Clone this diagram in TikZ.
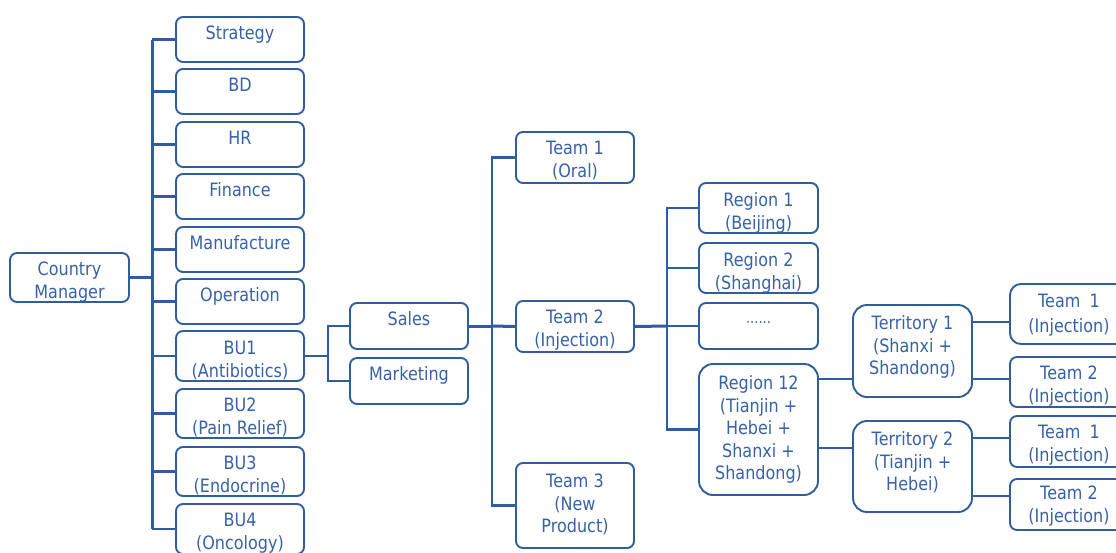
\documentclass[tikz,border=0pt]{standalone}
\usepackage{fontspec}
\setmainfont{DejaVu Sans}[FakeStretch=0.87]
\usetikzlibrary{calc}
\definecolor{lc}{HTML}{2F5D9E}
\definecolor{tc}{HTML}{3862A8}
\tikzset{
  box/.style={draw=lc, line width=1.9pt, rounded corners=7pt, text=tc,
    inner sep=0pt, text height=0pt, text depth=0pt,
    font=\fontsize{18.4}{22.5}\selectfont},
  bigbox/.style={box, rounded corners=14pt},
  conn/.style={draw=lc, line width=2.1pt},
  thick conn/.style={draw=lc, line width=3pt},
}
% #1 = vertical offset (px, down positive) of the first line's middle from the box centre
\newcommand{\ml}[2]{\raisebox{\dimexpr -#1pt - 6.6pt\relax}{\parbox[t]{112pt}{\centering #2}}}
\begin{document}
\begin{tikzpicture}[x=1pt,y=-1pt]
\clip (0,0) rectangle (1116,552);
\useasboundingbox (0,0) rectangle (1116,552);
\fill[white] (0,0) rectangle (1116,552);

% Country manager
\node[box, minimum width=119pt, minimum height=49pt] (cm) at (69.5,277.5) {\ml{-8.5}{Country\\Manager}};

% Left column
\foreach \n/\y/\h/\o/\t in {
  s1/39.5/45/-6.5/{Strategy},
  s2/91.5/45/-6.5/{BD},
  s3/144.5/45/-6.5/{HR},
  s4/196.5/45/-6.5/{Finance},
  s5/249.5/45/-7/{Manufacture},
  s6/301.5/45/-6.5/{Operation},
  bu1/356/50/-8/{BU1\\(Antibiotics)},
  bu2/413.5/49/-8.5/{BU2\\(Pain Relief)},
  bu3/471.5/49/-8.5/{BU3\\(Endocrine)},
  bu4/529/50/-9/{BU4\\(Oncology)}}
  \node[box, minimum width=128pt, minimum height=\h pt] (\n) at (240,\y) {\ml{\o}{\t}};

% Sales / Marketing
\node[box, minimum width=118pt, minimum height=46pt] (sales) at (409,326) {\ml{-7}{Sales}};
\node[box, minimum width=118pt, minimum height=46pt] (mkt) at (409,381) {\ml{-7}{Marketing}};

% Teams
\node[box, minimum width=118pt, minimum height=51pt] (tm1) at (575,157.5) {\ml{-9.5}{Team 1\\(Oral)}};
\node[box, minimum width=118pt, minimum height=51pt] (tm2) at (575,326.5) {\ml{-9.5}{Team 2\\(Injection)}};
\node[box, minimum width=118pt, minimum height=85pt] (tm3) at (575,505.5) {\ml{-24.5}{Team 3\\(New\\Product)}};

% Regions
\node[box, minimum width=119pt, minimum height=50pt] (r1) at (758.5,208) {\ml{-8}{Region 1\\(Beijing)}};
\node[box, minimum width=119pt, minimum height=50pt] (r2) at (758.5,268) {\ml{-8}{Region 2\\(Shanghai)}};
\node[box, minimum width=119pt, minimum height=46pt] (rd) at (758.5,326) {\ml{-9.6}{\fontsize{15}{16}\selectfont ......}};
\node[bigbox, minimum width=119pt, minimum height=131pt] (r12) at (758.5,429.5) {\ml{-46.5}{Region 12\\(Tianjin +\\Hebei +\\Shanxi +\\Shandong)}};

% Territories
\node[bigbox, minimum width=119pt, minimum height=92pt] (t1) at (912.5,351) {\ml{-28}{Territory 1\\(Shanxi +\\Shandong)}};
\node[bigbox, minimum width=119pt, minimum height=91pt] (t2) at (912.5,466.5) {\ml{-27.5}{Territory 2\\(Tianjin +\\Hebei)}};

% Right-most teams
\node[box, rounded corners=11pt, minimum width=118pt, minimum height=60pt] (ta) at (1069,314) {\ml{-13}{Team\enspace{\rmfamily 1}\\[2pt](Injection)}};
\node[box, minimum width=118pt, minimum height=50pt] (tb) at (1069,382) {\ml{-9}{Team 2\\(Injection)}};
\node[box, minimum width=118pt, minimum height=51pt] (tcn) at (1069,441.5) {\ml{-9.5}{Team\enspace{\rmfamily 1}\\(Injection)}};
\node[box, minimum width=118pt, minimum height=51pt] (td) at (1069,504.5) {\ml{-11.5}{Team 2\\(Injection)}};

% Connectors: Country manager
\coordinate (j1) at (152,277.5);
\draw[thick conn] (cm.east) -- (j1);
\draw[thick conn] (152,39.5) -- (152,529);
\foreach \n in {s1,s2,s3,s4,s5,s6,bu1,bu2,bu3,bu4}
  \draw[conn] (j1 |- \n.west) -- (\n.west);

% BU1 -> Sales / Marketing
\coordinate (j2) at (328,356);
\draw[conn] (bu1.east) -- (j2);
\draw[conn] (j2) |- (sales.west);
\draw[conn] (j2) |- (mkt.west);

% Sales -> Teams
\coordinate (j3) at (492,326);
\draw[thick conn] (sales.east) -- (j3);
\draw[conn] (j3) |- (tm1.west);
\draw[thick conn] (j3) -- (tm2.west);
\draw[conn] (j3) |- (tm3.west);

% Team 2 -> Regions
\coordinate (j4) at (667,326);
\draw[thick conn] (tm2.east) -- (j4);
\draw[conn] (j4) |- (r1.west);
\draw[conn] (j4) |- (r2.west);
\draw[conn] (j4) -- (rd.west);
\draw[conn] (j4) |- (r12.west);

% Region 12 -> Territories
\coordinate (p1) at ($(r12.east)+(0,-50.5)$);
\coordinate (p2) at ($(r12.east)+(0,18.5)$);
\draw[conn] (p1) -- (p1 -| t1.west);
\draw[conn] (p2) -- (p2 -| t2.west);

% Territories -> Teams
\coordinate (q1) at ($(t1.east)+(0,-29)$);
\coordinate (q2) at ($(t1.east)+(0,28)$);
\coordinate (q3) at ($(t2.east)+(0,-28.5)$);
\coordinate (q4) at ($(t2.east)+(0,29.5)$);
\draw[conn] (q1) -- (q1 -| ta.west);
\draw[conn] (q2) -- (q2 -| tb.west);
\draw[conn] (q3) -- (q3 -| tcn.west);
\draw[conn] (q4) -- (q4 -| td.west);
\end{tikzpicture}
\end{document}
